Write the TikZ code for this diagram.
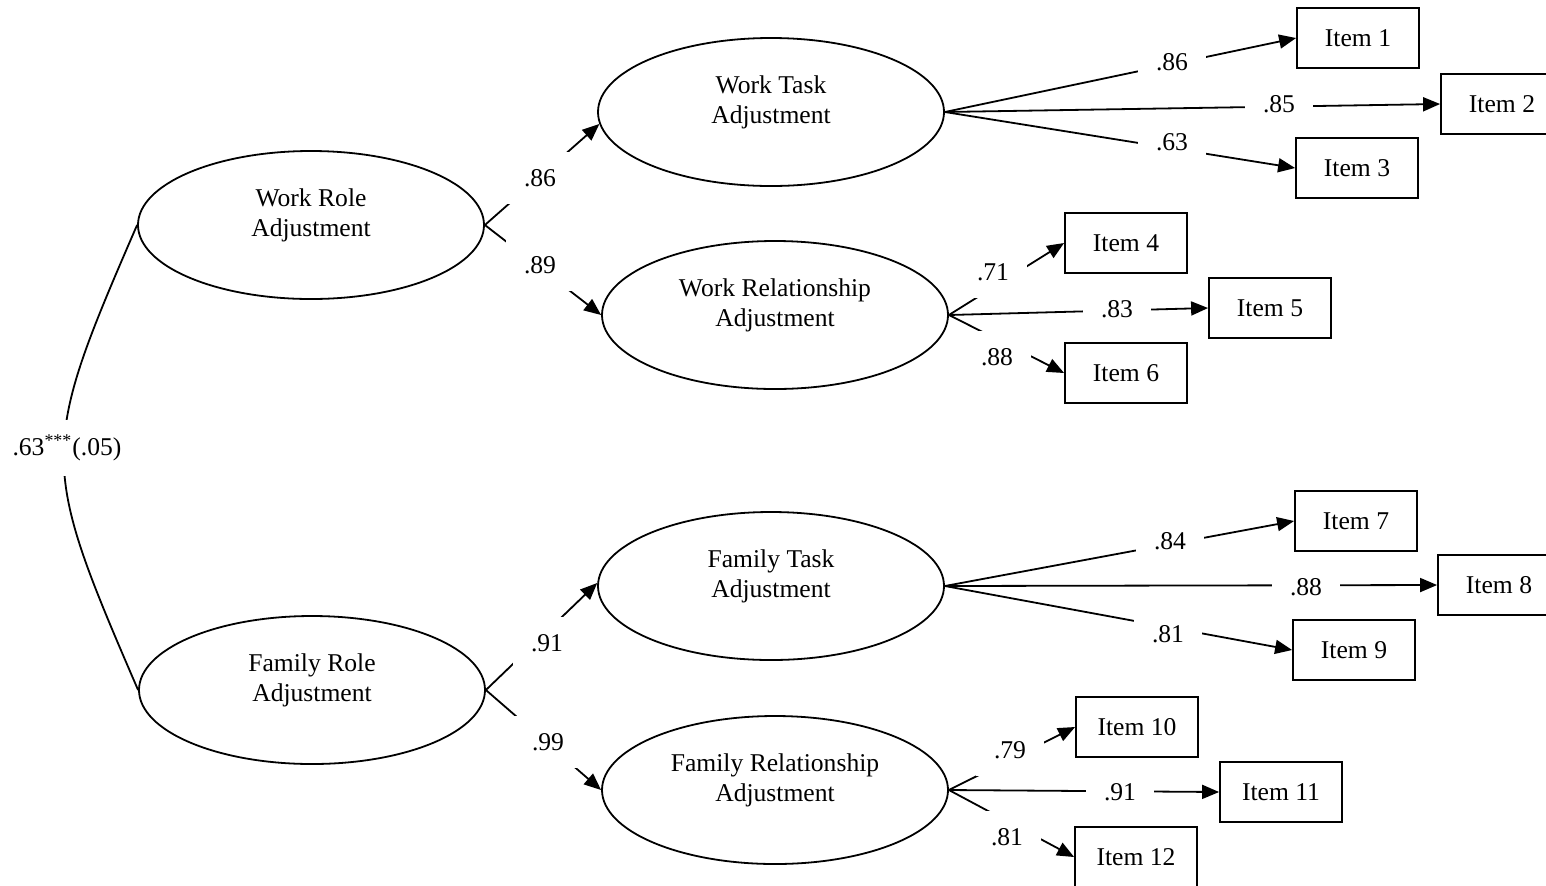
\documentclass[tikz,border=0pt]{standalone}
\usepackage{fontspec}
\setmainfont{Liberation Serif}
\usetikzlibrary{arrows.meta,positioning,shapes.geometric}
\tikzset{
  flow/.style={-{Triangle[length=8.5pt,width=7pt]}, line width=0.9pt},
  latent/.style={ellipse, draw, line width=0.9pt, minimum width=173pt, minimum height=74pt, inner sep=0pt, align=center, text depth=12.5pt},
  itembox/.style={rectangle, draw, line width=0.9pt, minimum width=61pt, minimum height=30pt, inner sep=0pt},
  coef/.style={fill=white, inner sep=0pt, minimum width=34pt, minimum height=26pt}
}

\begin{document}
\begin{tikzpicture}[x=0.5pt, y=-0.5pt, font=\fontsize{12.8}{15}\selectfont]
  \useasboundingbox (0,0) rectangle (1546,885);

  % second order factors
  \node[latent] (wrole) at (311,225) {Work Role\\Adjustment};
  \node[latent] (frole) at (312,690) {Family Role\\Adjustment};

  % first order factors
  \node[latent] (wtask) at (771,112) {Work Task\\Adjustment};
  \node[latent] (wrel)  at (775,315) {Work Relationship\\Adjustment};
  \node[latent] (ftask) at (771,586) {Family Task\\Adjustment};
  \node[latent] (frel)  at (775,790) {Family Relationship\\Adjustment};

  % indicators
  \node[itembox] (i1)  at (1358,38)  {Item 1};
  \node[itembox] (i2)  at (1502,104) {Item 2};
  \node[itembox] (i3)  at (1357,168) {Item 3};
  \node[itembox] (i4)  at (1126,243) {Item 4};
  \node[itembox] (i5)  at (1270,308) {Item 5};
  \node[itembox] (i6)  at (1126,373) {Item 6};
  \node[itembox] (i7)  at (1356,521) {Item 7};
  \node[itembox] (i8)  at (1499,585) {Item 8};
  \node[itembox] (i9)  at (1354,650) {Item 9};
  \node[itembox] (i10) at (1137,727) {Item 10};
  \node[itembox] (i11) at (1281,792) {Item 11};
  \node[itembox] (i12) at (1136,857) {Item 12};

  % paths
  \draw[line width=0.9pt] (wrole.west) .. controls (39,451) and (39,461) .. (frole.west);
  \draw[flow] (wrole.east) -- (wtask.184);
  \draw[flow] (wrole.east) -- (wrel.west);
  \draw[flow] (frole.east) -- (ftask.179);
  \draw[flow] (frole.east) -- (frel.west);

  \draw[flow] (wtask.east) -- (i1.west);
  \draw[flow] (wtask.east) -- (i2.west);
  \draw[flow] (wtask.east) -- (i3.west);
  \draw[flow] (wrel.east) -- (i4.west);
  \draw[flow] (wrel.east) -- (i5.west);
  \draw[flow] (wrel.east) -- (i6.west);
  \draw[flow] (ftask.east) -- (i7.west);
  \draw[flow] (ftask.east) -- (i8.west);
  \draw[flow] (ftask.east) -- (i9.west);
  \draw[flow] (frel.east) -- (i10.west);
  \draw[flow] (frel.east) -- (i11.west);
  \draw[flow] (frel.east) -- (i12.west);

  % coefficients
  \node[coef, minimum height=28pt] (r0) at (67,448) {.63\textsuperscript{***}(.05)};
  \node[coef] (r1) at (540,178) {.86};
  \node[coef] (r2) at (540,265) {.89};
  \node[coef] (r3) at (547,643) {.91};
  \node[coef] (r4) at (548,742) {.99};

  \node[coef] (l1)  at (1172,62)  {.86};
  \node[coef] (l2)  at (1279,104) {.85};
  \node[coef] (l3)  at (1172,142) {.63};
  \node[coef] (l4)  at (993,272)  {.71};
  \node[coef] (l5)  at (1117,309) {.83};
  \node[coef] (l6)  at (997,357)  {.88};
  \node[coef] (l7)  at (1170,541) {.84};
  \node[coef] (l8)  at (1306,587) {.88};
  \node[coef] (l9)  at (1168,634) {.81};
  \node[coef] (l10) at (1010,750) {.79};
  \node[coef] (l11) at (1120,792) {.91};
  \node[coef] (l12) at (1007,837) {.81};
\end{tikzpicture}
\end{document}
